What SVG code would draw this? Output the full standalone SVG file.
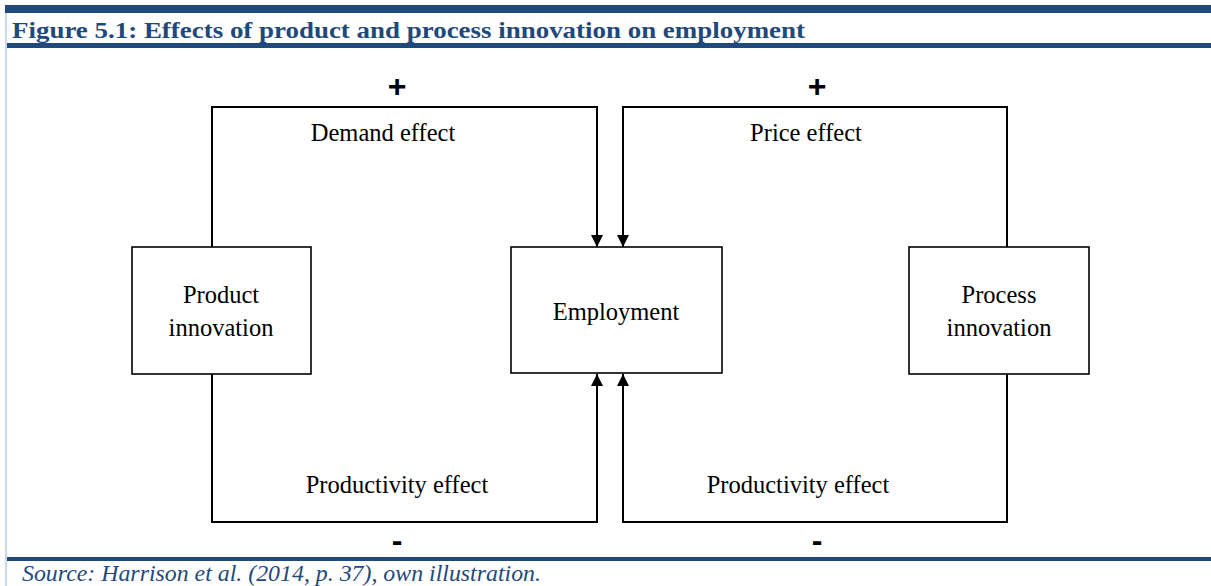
<svg xmlns="http://www.w3.org/2000/svg" width="1211" height="586" viewBox="0 0 1211 586">
  <style>
    .rule { fill: #1f497d; }
    .box { fill: #ffffff; stroke: #000000; stroke-width: 1.6; }
    .serif { font-family: "Liberation Serif", "Times New Roman", Times, serif; }
    .lbl { font-size: 24.5px; fill: #000000; text-anchor: middle; }
    .sign { font-family: "Liberation Sans", Arial, Helvetica, sans-serif; font-size: 32px; font-weight: bold; fill: #000000; text-anchor: middle; }
    .link { fill: none; stroke: #000000; stroke-width: 2; }
  </style>
  <defs>
    <marker id="arrow" viewBox="0 0 12 12" refX="12" refY="6" markerWidth="12" markerHeight="12" markerUnits="userSpaceOnUse" orient="auto">
      <path d="M0,0 L12,6 L0,12 Z" fill="#000000"/>
    </marker>
  </defs>

  <rect width="1211" height="586" fill="#ffffff"/>

  <!-- frame rules -->
  <rect class="rule" x="5" y="5" width="1206" height="8"/>
  <rect class="rule" x="5" y="43" width="1206" height="5"/>
  <rect class="rule" x="5" y="557" width="1206" height="4"/>
  <rect x="5" y="13" width="2" height="573" fill="#c6d9f1"/>

  <text class="serif" x="12" y="38" textLength="793" lengthAdjust="spacingAndGlyphs" font-size="24" font-weight="bold" fill="#1f497d">Figure 5.1: Effects of product and process innovation on employment</text>

  <!-- connectors -->
  <g id="connectors">
    <path class="link" d="M212,247 V107 H597 V247" marker-end="url(#arrow)"/>
    <path class="link" d="M1007,247 V107 H623 V247" marker-end="url(#arrow)"/>
    <path class="link" d="M212,374 V522 H597 V374" marker-end="url(#arrow)"/>
    <path class="link" d="M1007,374 V522 H623 V374" marker-end="url(#arrow)"/>
  </g>

  <!-- effect labels -->
  <g id="labels">
    <text class="sign" x="397" y="97">+</text>
    <text class="sign" x="817" y="97">+</text>
    <text class="serif lbl" x="383" y="141">Demand effect</text>
    <text class="serif lbl" x="806" y="141">Price effect</text>
    <text class="serif lbl" x="397" y="493">Productivity effect</text>
    <text class="serif lbl" x="798" y="493">Productivity effect</text>
    <text class="sign" x="397" y="551">-</text>
    <text class="sign" x="817" y="551">-</text>
  </g>

  <!-- nodes -->
  <g id="product-innovation">
    <rect class="box" x="132" y="247" width="179" height="127"/>
    <text class="serif lbl" x="221" y="303">Product</text>
    <text class="serif lbl" x="221" y="336">innovation</text>
  </g>
  <g id="employment">
    <rect class="box" x="511" y="247" width="211" height="126"/>
    <text class="serif lbl" x="616" y="320">Employment</text>
  </g>
  <g id="process-innovation">
    <rect class="box" x="909" y="247" width="180" height="127"/>
    <text class="serif lbl" x="999" y="303">Process</text>
    <text class="serif lbl" x="999" y="336">innovation</text>
  </g>

  <text class="serif" x="22" y="581" textLength="519" lengthAdjust="spacingAndGlyphs" font-size="23" font-style="italic" fill="#1f497d">Source: Harrison et al. (2014, p. 37), own illustration.</text>
</svg>
